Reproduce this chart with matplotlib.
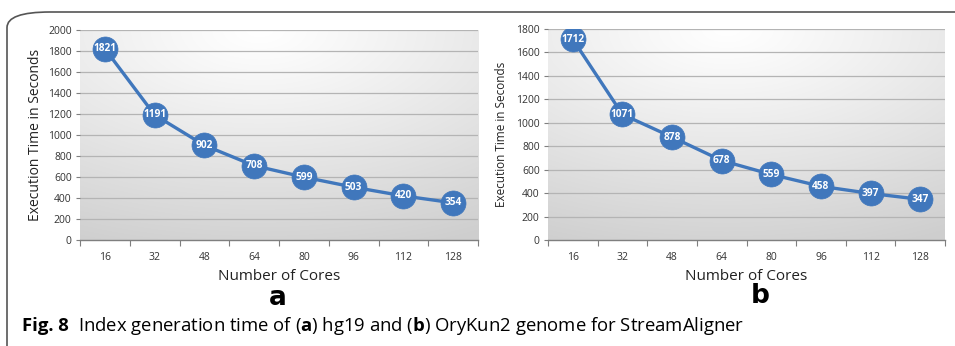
import numpy as np
import matplotlib
matplotlib.use("Agg")
import matplotlib.pyplot as plt
from matplotlib.patches import FancyBboxPatch

cores = [16, 32, 48, 64, 80, 96, 112, 128]
time_a = [1821, 1191, 902, 708, 599, 503, 420, 354]
time_b = [1712, 1071, 878, 678, 559, 458, 397, 347]
yticks_a = [0, 200, 400, 600, 800, 1000, 1200, 1400, 1600, 1800, 2000]
yticks_b = [0, 200, 400, 600, 800, 1000, 1200, 1400, 1600, 1800]

FONT = "Open Sans"
BLUE = "#4077BC"
plt.rcParams["mathtext.fontset"] = "custom"
plt.rcParams["mathtext.bf"] = "Open Sans:bold"
plt.rcParams["mathtext.rm"] = "Open Sans"

fig = plt.figure(figsize=(9.55, 3.46), dpi=100)
W, H = 955, 346

def px(x0, y0, x1, y1):
    return [x0 / W, 1 - y1 / H, (x1 - x0) / W, (y1 - y0) / H]

def make_bg(ax):
    ny, nx = 200, 300
    xx, yy = np.meshgrid(np.linspace(0, 1, nx), np.linspace(0, 1, ny))
    d = np.sqrt(((xx - 0.45) * 1.0) ** 2 + ((yy - 1.0) * 1.05) ** 2)
    v = 1.0 - 0.19 * np.clip(d / 1.15, 0, 1) ** 1.1
    img = np.dstack([v, v, v])
    ax.imshow(img, extent=[0, 1, 0, 1], transform=ax.transAxes, aspect="auto",
              origin="lower", zorder=0)

def panel(rect, values, yticks, ylabel_x, ylabel_size):
    ax = fig.add_axes(rect)
    make_bg(ax)
    n = len(cores)
    pos = np.arange(n)
    ax.set_xlim(-0.5, n - 0.5)
    ax.set_ylim(yticks[0], yticks[-1])
    for t in yticks[1:]:
        ax.axhline(t, color="#b4b4b4", lw=0.9, zorder=1)
    ax.plot(pos, values, color=BLUE, lw=2.4, zorder=3)
    ax.plot(pos, values, "o", ms=18, color=BLUE, mec=BLUE, mew=0.5, zorder=4)
    for p, v in zip(pos, values):
        ax.text(p, v, str(v), ha="center", va="center", color="white",
                fontsize=7.3, fontweight="bold", family=FONT, zorder=5)
    for s in ["top", "right", "left"]:
        ax.spines[s].set_visible(False)
    ax.spines["bottom"].set_color("#7f7f7f")
    ax.spines["bottom"].set_linewidth(1.0)
    ax.set_xticks(np.arange(n + 1) - 0.5)
    ax.set_xticklabels([])
    ax.tick_params(axis="x", which="major", direction="out", length=4, color="#7f7f7f")
    ax.set_xticks(pos, minor=True)
    ax.set_xticklabels([str(c) for c in cores], minor=True, fontsize=7.5, family=FONT,
                       color="#333333")
    ax.tick_params(axis="x", which="minor", length=0, pad=9)
    ax.set_yticks(yticks)
    ax.set_yticklabels([str(t) for t in yticks], fontsize=7.5, family=FONT, color="#333333")
    ax.tick_params(axis="y", length=3, color="#7f7f7f", pad=3)
    ax.set_xlabel("Number of Cores", fontsize=11, family=FONT, color="#222222", labelpad=4)
    ax.set_ylabel("Execution Time in Seconds", fontsize=ylabel_size, family=FONT, color="#222222")
    ax.yaxis.set_label_coords(ylabel_x, 0.5)
    return ax

ax_a = panel(px(80, 30, 478, 240), time_a, yticks_a, -0.093, 10)
ax_b = panel(px(548, 29, 945, 240), time_b, yticks_b, -0.10, 8.5)

fig.text(278 / W, 1 - 298 / H, "a", ha="center", va="center", fontsize=19,
         fontweight="bold", family="DejaVu Sans")
fig.text(760 / W, 1 - 296 / H, "b", ha="center", va="center", fontsize=19,
         fontweight="bold", family="DejaVu Sans")

cap_y = 1 - 326 / H
t1 = fig.text(22 / W, cap_y, "Fig. 8", ha="left", va="center", fontsize=13.3,
              fontweight="bold", family="Open Sans")
fig.canvas.draw()
bb = t1.get_window_extent()
fig.text((bb.x1 + 9) / W, cap_y,
         "Index generation time of ($\\mathbf{a}$) hg19 and ($\\mathbf{b}$) OryKun2 genome for StreamAligner",
         ha="left", va="center", fontsize=13.3, family="Open Sans")

frame = FancyBboxPatch((7 / W, -0.2), 1.2, (1 - 12 / H) + 0.2,
                       boxstyle="round,pad=0,rounding_size=0.045",
                       transform=fig.transFigure, fill=False, ec="#555555", lw=1.2,
                       clip_on=False)
fig.patches.append(frame)

fig.savefig("out.png", dpi=100)
